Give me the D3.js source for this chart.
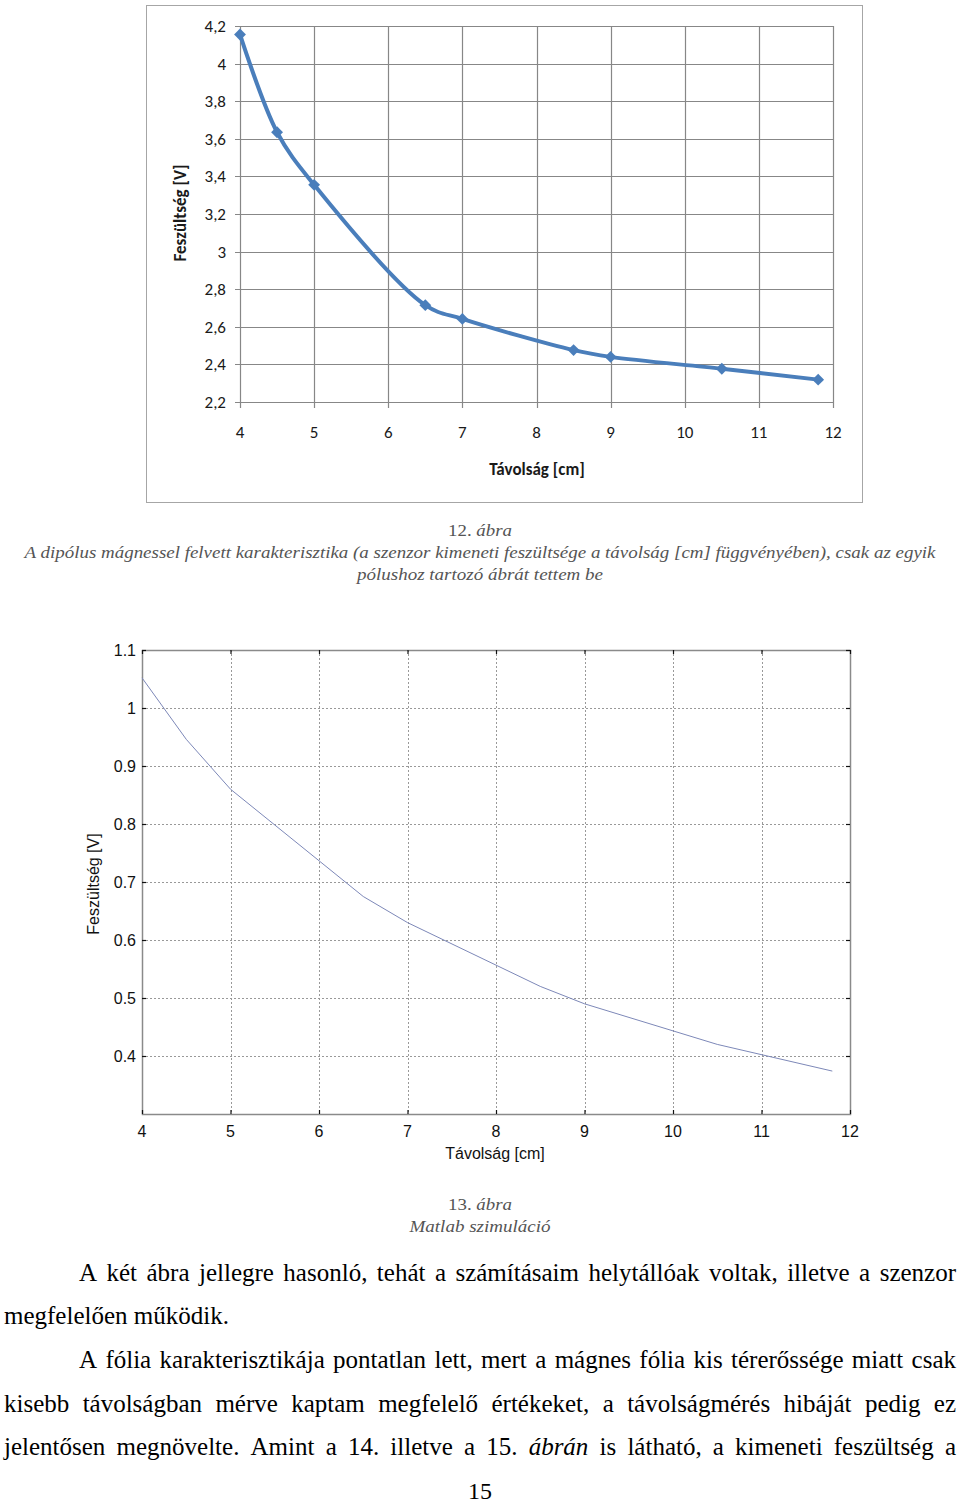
<!DOCTYPE html>
<html>
<head>
<meta charset="utf-8">
<script src="https://cdn.jsdelivr.net/npm/d3@7"></script>
<style>
  html, body { margin: 0; padding: 0; background: #fff; }
  svg { display: block; }
</style>
</head>
<body>
<svg id="page" width="960" height="1505"></svg>
<script>
// ---------- DATA ----------
const distMeasured = [4, 4.5, 5, 6.5, 7, 8.5, 9, 10.5, 11.8];
const voltMeasured = [4.155, 3.635, 3.355, 2.715, 2.642, 2.476, 2.44, 2.377, 2.319];
const topXTicks = [4, 5, 6, 7, 8, 9, 10, 11, 12];
const topYTicks = [2.2, 2.4, 2.6, 2.8, 3, 3.2, 3.4, 3.6, 3.8, 4, 4.2];
const topYLabels = ["2,2", "2,4", "2,6", "2,8", "3", "3,2", "3,4", "3,6", "3,8", "4", "4,2"];

const distSim = [4, 4.5, 5, 6.5, 7, 8.5, 9, 10.5, 11.8];
const voltSim = [1.052, 0.946, 0.86, 0.675, 0.63, 0.52, 0.49, 0.42, 0.374];
const botXTicks = [4, 5, 6, 7, 8, 9, 10, 11, 12];
const botYTicks = [0.4, 0.5, 0.6, 0.7, 0.8, 0.9, 1, 1.1];
const botYLabels = ["0.4", "0.5", "0.6", "0.7", "0.8", "0.9", "1", "1.1"];

const caption12 = ["12. ábra",
  "A dipólus mágnessel felvett karakterisztika (a szenzor kimeneti feszültsége a távolság [cm] függvényében), csak az egyik",
  "pólushoz tartozó ábrát tettem be"];
const caption13 = ["13. ábra", "Matlab szimuláció"];

const paragraphLines = [
  {words: "A két ábra jellegre hasonló, tehát a számításaim helytállóak voltak, illetve a szenzor", justify: true, indent: true},
  {words: "megfelelően működik.", justify: false, indent: false},
  {words: "A fólia karakterisztikája pontatlan lett, mert a mágnes fólia kis térerőssége miatt csak", justify: true, indent: true},
  {words: "kisebb távolságban mérve kaptam megfelelő értékeket, a távolságmérés hibáját pedig ez", justify: true, indent: false},
  {words: "jelentősen megnövelte. Amint a 14. illetve a 15. *ábrán* is látható, a kimeneti feszültség a", justify: true, indent: false}
];
const pageNumber = "15";

// ---------- PAGE ----------
const svg = d3.select("#page");
const SERIF = "'Liberation Serif', 'Times New Roman', serif";
const CAL = "Carlito, 'Liberation Sans Narrow', 'Open Sans', 'Liberation Sans', sans-serif";
const ARIAL = "'Liberation Sans', Arial, sans-serif";

// ---------- TOP CHART (Excel style) ----------
const topG = svg.append("g");
topG.append("rect").attr("x", 146.5).attr("y", 5.5).attr("width", 716).attr("height", 497)
  .attr("fill", "#fff").attr("stroke", "#a6a6a6").attr("stroke-width", 1);

const xT = d3.scaleLinear().domain([4, 12]).range([240, 833]);
const yT = d3.scaleLinear().domain([2.2, 4.2]).range([402, 26]);

// gridlines
topG.append("g").selectAll("line").data(topYTicks).join("line")
  .attr("x1", 235).attr("x2", xT(12))
  .attr("y1", d => Math.round(yT(d)) + 0.5).attr("y2", d => Math.round(yT(d)) + 0.5)
  .attr("stroke", "#878787").attr("stroke-width", 1.2);
topG.append("g").selectAll("line").data(topXTicks).join("line")
  .attr("x1", d => Math.round(xT(d)) + 0.5).attr("x2", d => Math.round(xT(d)) + 0.5)
  .attr("y1", yT(4.2)).attr("y2", yT(2.2) + 6)
  .attr("stroke", "#878787").attr("stroke-width", 1.2);

// tick labels
topG.append("g").selectAll("text").data(topYTicks).join("text")
  .attr("x", 226).attr("y", d => yT(d) + 6)
  .attr("text-anchor", "end").attr("font-family", CAL).attr("font-size", 17)
  .attr("fill", "#1a1a1a").text((d, i) => topYLabels[i]);
topG.append("g").selectAll("text").data(topXTicks).join("text")
  .attr("x", d => xT(d)).attr("y", 438)
  .attr("text-anchor", "middle").attr("font-family", CAL).attr("font-size", 17)
  .attr("fill", "#1a1a1a").text(d => d);

// axis titles
topG.append("text").attr("transform", "translate(186,213) rotate(-90)")
  .attr("text-anchor", "middle").attr("font-family", CAL).attr("font-weight", "bold")
  .attr("font-size", 17).attr("fill", "#1a1a1a").text("Feszültség [V]");
topG.append("text").attr("x", 537).attr("y", 475)
  .attr("text-anchor", "middle").attr("font-family", CAL).attr("font-weight", "bold")
  .attr("font-size", 17).attr("fill", "#1a1a1a").text("Távolság [cm]");

// series
const measured = distMeasured.map((d, i) => [d, voltMeasured[i]]);
const lineT = d3.line().x(d => xT(d[0])).y(d => yT(d[1])).curve(d3.curveCatmullRom.alpha(0.5));
topG.append("path").datum(measured).attr("d", lineT)
  .attr("fill", "none").attr("stroke", "#4a7ebb").attr("stroke-width", 4)
  .attr("stroke-linejoin", "round").attr("stroke-linecap", "round");
topG.append("g").selectAll("path").data(measured).join("path")
  .attr("d", d3.symbol().type(d3.symbolSquare).size(70))
  .attr("transform", d => `translate(${xT(d[0])},${yT(d[1])}) rotate(45)`)
  .attr("fill", "#4a7ebb");

// ---------- CAPTIONS ----------
function caption(lines, ys, widths) {
  lines.forEach((t, i) => {
    const tx = svg.append("text").attr("x", 480).attr("y", ys[i])
      .attr("text-anchor", "middle").attr("font-family", SERIF)
      .attr("font-size", 17).attr("fill", "#555");
    const m = t.match(/^(\d+\. )(.*)$/);
    if (m) {
      tx.append("tspan").text(m[1]);
      tx.append("tspan").attr("font-style", "italic").text(m[2]);
    } else {
      tx.attr("font-style", "italic").text(t);
    }
    if (widths[i]) tx.attr("textLength", widths[i]).attr("lengthAdjust", "spacingAndGlyphs");
  });
}
caption(caption12, [536, 558, 580], [64, 911, 246]);

// ---------- BOTTOM CHART (Matlab style) ----------
const botG = svg.append("g");
const xB = d3.scaleLinear().domain([4, 12]).range([142, 850]);
const yB = d3.scaleLinear().domain([0.3, 1.1]).range([1114, 650]);

// dotted grid
botG.append("g").selectAll("line").data(botYTicks.filter(d => d < 1.1)).join("line")
  .attr("x1", xB(4)).attr("x2", xB(12))
  .attr("y1", d => Math.round(yB(d)) + 0.5).attr("y2", d => Math.round(yB(d)) + 0.5)
  .attr("stroke", "#999").attr("stroke-width", 1).attr("stroke-dasharray", "2,2");
botG.append("g").selectAll("line").data(botXTicks.filter(d => d > 4 && d < 12)).join("line")
  .attr("x1", d => Math.round(xB(d)) + 0.5).attr("x2", d => Math.round(xB(d)) + 0.5)
  .attr("y1", yB(1.1)).attr("y2", yB(0.3))
  .attr("stroke", "#999").attr("stroke-width", 1).attr("stroke-dasharray", "2,2");

// frame
botG.append("rect").attr("x", xB(4) + 0.5).attr("y", yB(1.1) + 0.5)
  .attr("width", xB(12) - xB(4)).attr("height", yB(0.3) - yB(1.1))
  .attr("fill", "none").attr("stroke", "#8a8a8a").attr("stroke-width", 1.5);

// inner ticks
const tk = 4;
botG.append("g").selectAll("line").data(botYTicks).join("line")
  .attr("x1", xB(4)).attr("x2", xB(4) + tk)
  .attr("y1", d => yB(d) + 0.5).attr("y2", d => yB(d) + 0.5)
  .attr("stroke", "#111").attr("stroke-width", 1.2);
botG.append("g").selectAll("line").data(botYTicks).join("line")
  .attr("x1", xB(12) - tk).attr("x2", xB(12))
  .attr("y1", d => yB(d) + 0.5).attr("y2", d => yB(d) + 0.5)
  .attr("stroke", "#111").attr("stroke-width", 1.2);
botG.append("g").selectAll("line").data(botXTicks).join("line")
  .attr("x1", d => xB(d) + 0.5).attr("x2", d => xB(d) + 0.5)
  .attr("y1", yB(0.3)).attr("y2", yB(0.3) - tk)
  .attr("stroke", "#111").attr("stroke-width", 1.2);
botG.append("g").selectAll("line").data(botXTicks).join("line")
  .attr("x1", d => xB(d) + 0.5).attr("x2", d => xB(d) + 0.5)
  .attr("y1", yB(1.1)).attr("y2", yB(1.1) + tk)
  .attr("stroke", "#111").attr("stroke-width", 1.2);

// tick labels
botG.append("g").selectAll("text").data(botYTicks).join("text")
  .attr("x", 136).attr("y", d => yB(d) + 6)
  .attr("text-anchor", "end").attr("font-family", ARIAL).attr("font-size", 16)
  .attr("fill", "#111").text((d, i) => botYLabels[i]);
botG.append("g").selectAll("text").data(botXTicks).join("text")
  .attr("x", d => xB(d)).attr("y", 1137)
  .attr("text-anchor", "middle").attr("font-family", ARIAL).attr("font-size", 16)
  .attr("fill", "#111").text(d => d);

botG.append("text").attr("transform", "translate(99,884) rotate(-90)")
  .attr("text-anchor", "middle").attr("font-family", ARIAL).attr("font-size", 16)
  .attr("fill", "#111").text("Feszültség [V]");
botG.append("text").attr("x", 495).attr("y", 1159)
  .attr("text-anchor", "middle").attr("font-family", ARIAL).attr("font-size", 16)
  .attr("fill", "#111").text("Távolság [cm]");

const sim = distSim.map((d, i) => [d, voltSim[i]]);
const lineB = d3.line().x(d => xB(d[0])).y(d => yB(d[1]));
botG.append("path").datum(sim).attr("d", lineB)
  .attr("fill", "none").attr("stroke", "#7d88b8").attr("stroke-width", 1);

caption(caption13, [1210, 1232], [64, 141]);

// ---------- PARAGRAPH ----------
const lineYs = [1281, 1324, 1368, 1412, 1455];
paragraphLines.forEach((ln, li) => {
  const x0 = ln.indent ? 79 : 4, x1 = 956;
  const words = ln.words.split(" ");
  const nodes = words.map(w => {
    const italic = /^\*.*\*$/.test(w);
    const t = svg.append("text").attr("y", lineYs[li])
      .attr("font-family", SERIF).attr("font-size", 25).attr("fill", "#000")
      .attr("font-style", italic ? "italic" : "normal")
      .text(italic ? w.slice(1, -1) : w);
    return {t, w: t.node().getComputedTextLength()};
  });
  const total = d3.sum(nodes, n => n.w);
  const gap = ln.justify && nodes.length > 1 ? (x1 - x0 - total) / (nodes.length - 1) : 6.25;
  let x = x0;
  nodes.forEach(n => { n.t.attr("x", x); x += n.w + gap; });
});

svg.append("text").attr("x", 480).attr("y", 1499).attr("text-anchor", "middle")
  .attr("font-family", SERIF).attr("font-size", 24).attr("fill", "#000").text(pageNumber);
</script>
</body>
</html>
